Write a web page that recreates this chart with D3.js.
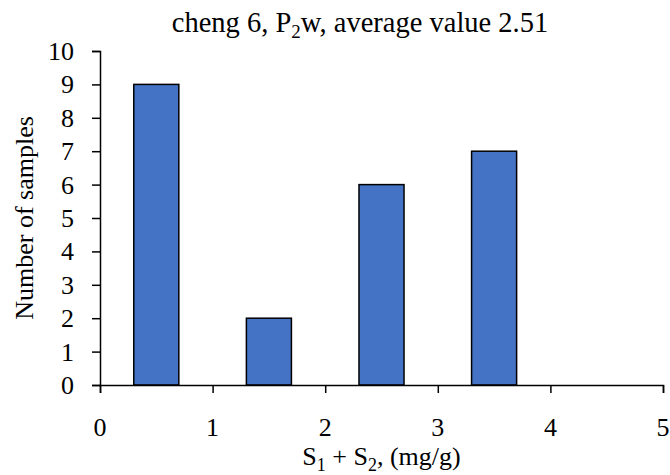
<!DOCTYPE html>
<html>
<head>
<meta charset="utf-8">
<script src="https://cdn.jsdelivr.net/npm/d3@7"></script>
<style>
	body { margin: 0; background: #fff; }
	svg text { font-family: "Liberation Serif", "Times New Roman", serif; fill: #000; }
</style>
</head>
<body>
<svg id="chart" width="670" height="475"></svg>
<script>
// histogram bins (S1 + S2, mg/g) and counts
const binStart = [0.3, 1.3, 2.3, 3.3];
const binEnd = [0.7, 1.7, 2.7, 3.7];
const counts = [9, 2, 6, 7];
const xTicks = [0, 1, 2, 3, 4, 5];
const yTicks = [0, 1, 2, 3, 4, 5, 6, 7, 8, 9, 10];

const svg = d3.select("#chart");
const margin = { left: 100, right: 7, top: 51, bottom: 90 };
const width = 670 - margin.left - margin.right;
const height = 475 - margin.top - margin.bottom;
const fs = 26;

const x = d3.scaleLinear().domain([0, 5]).range([0, width]);
const y = d3.scaleLinear().domain([0, 10]).range([height, 0]);

const g = svg.append("g").attr("transform", `translate(${margin.left},${margin.top})`);

// bars
g.selectAll("rect")
	.data(counts)
	.enter()
	.append("rect")
	.attr("x", (d, i) => x(binStart[i]))
	.attr("y", (d) => y(d))
	.attr("width", (d, i) => x(binEnd[i]) - x(binStart[i]))
	.attr("height", (d) => y(0) - y(d))
	.attr("fill", "#4472C4")
	.attr("stroke", "#000")
	.attr("stroke-width", 1.5);

// axes (lines and ticks only, labels drawn below)
const yAxis = g.append("g")
	.call(d3.axisLeft(y).tickValues(yTicks).tickFormat("").tickSize(8));
const xAxis = g.append("g")
	.attr("transform", `translate(0,${height})`)
	.call(d3.axisBottom(x).tickValues(xTicks).tickFormat("").tickSize(8));

[yAxis, xAxis].forEach((a) => {
	a.select(".domain").attr("stroke", "#000").attr("stroke-width", 1.5);
	a.selectAll(".tick line").attr("stroke", "#000").attr("stroke-width", 1.5);
});

// tick labels
g.selectAll(".ylab")
	.data(yTicks)
	.enter()
	.append("text")
	.attr("class", "ylab")
	.attr("x", -26)
	.attr("y", (d) => y(d) + 9)
	.attr("text-anchor", "end")
	.style("font-size", fs + "px")
	.text((d) => d);

g.selectAll(".xlab")
	.data(xTicks)
	.enter()
	.append("text")
	.attr("class", "xlab")
	.attr("x", (d) => x(d))
	.attr("y", height + 51)
	.attr("text-anchor", "middle")
	.style("font-size", fs + "px")
	.text((d) => d);

// title
const title = svg.append("text")
	.attr("x", 360)
	.attr("y", 32)
	.attr("text-anchor", "middle")
	.style("font-size", "28.5px");
title.append("tspan").text("cheng 6, P");
title.append("tspan").style("font-size", "19px").attr("dy", 6).text("2");
title.append("tspan").attr("dy", -6).text("w, average value 2.51");

// x axis title
const xt = svg.append("text")
	.attr("x", margin.left + width / 2)
	.attr("y", 465)
	.attr("text-anchor", "middle")
	.style("font-size", fs + "px");
xt.append("tspan").text("S");
xt.append("tspan").style("font-size", "18px").attr("dy", 6).text("1");
xt.append("tspan").attr("dy", -6).text(" + S");
xt.append("tspan").style("font-size", "18px").attr("dy", 6).text("2");
xt.append("tspan").attr("dy", -6).text(", (mg/g)");

// y axis title
svg.append("text")
	.attr("transform", `translate(33,${margin.top + height / 2}) rotate(-90)`)
	.attr("text-anchor", "middle")
	.style("font-size", fs + "px")
	.text("Number of samples");
</script>
</body>
</html>
